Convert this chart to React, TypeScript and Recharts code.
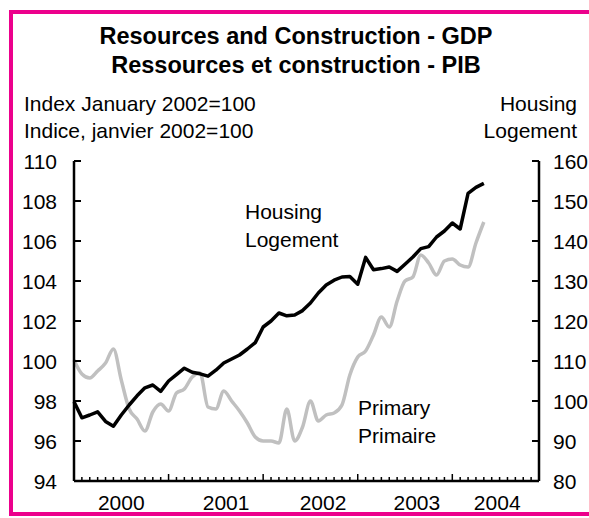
import { LineChart, Line, XAxis, YAxis } from 'recharts'

// monthly series, Jan 2000 .. May 2004
const primary = [
    100.05, 99.35, 99.15, 99.5, 99.9, 100.6, 99.05, 97.6, 97.1, 96.5, 97.45, 97.85,
    97.5, 98.4, 98.6, 99.2, 99.4, 97.7, 97.6, 98.5, 98.0, 97.5, 96.9, 96.2,
    96.0, 96.0, 95.9, 97.6, 96.0, 96.7, 98.0, 97.0, 97.3, 97.4, 97.8, 99.3,
    100.2, 100.5, 101.3, 102.2, 101.7, 103.0, 104.0, 104.2, 105.3, 104.9, 104.3, 105.0,
    105.1, 104.8, 104.7, 105.9, 106.95,
]
const housing = [
    99.8, 95.8, 96.5, 97.3, 94.9, 93.7, 96.5, 99.0, 101.3, 103.3, 104.0, 102.4,
    105.0, 106.6, 108.2, 107.2, 106.8, 106.2, 107.7, 109.5, 110.5, 111.5, 113.0, 114.6,
    118.5, 120.0, 122.0, 121.3, 121.5, 122.6, 124.5, 127.0, 129.0, 130.2, 131.0, 131.1,
    129.2, 135.9, 132.8, 133.1, 133.5, 132.4, 134.2, 136.0, 138.1, 138.6, 141.0, 142.5,
    144.5, 143.0, 151.9, 153.4, 154.4,
]
const monthNames = ['Jan', 'Feb', 'Mar', 'Apr', 'May', 'Jun', 'Jul', 'Aug', 'Sep', 'Oct', 'Nov', 'Dec']
const yearLabels = ['2000', '2001', '2002', '2003', '2004']
const yearLabelPos = [6, 19.3, 31.6, 43.5, 53.7]
const leftTicks = [94, 96, 98, 100, 102, 104, 106, 108, 110]
const rightTicks = [80, 90, 100, 110, 120, 130, 140, 150, 160]

const monthTicks = Array.from({ length: 60 }, (_, i) => i)
const xTicks = [...monthTicks, ...yearLabelPos.filter((p) => !monthTicks.includes(p))].sort((a, b) => a - b)

const data = primary.map((p, i) => ({
    m: i,
    month: `${monthNames[i % 12]} ${2000 + Math.floor(i / 12)}`,
    primary: p,
    housing: housing[i],
}))

const FONT = '"Liberation Sans", Arial, sans-serif'
const PLOT_L = 74
const PLOT_R = 539
const PLOT_B = 481

function XTick(props: any) {
    const { payload } = props
    const v = payload.value
    const x = payload.coordinate ?? props.x
    const li = yearLabelPos.indexOf(v)
    return (
        <g>
            {Number.isInteger(v) && (
                <line x1={x} x2={x} y1={PLOT_B} y2={PLOT_B - (v % 12 === 0 ? 7 : 4)} stroke="#000" strokeWidth={1.5} />
            )}
            {li >= 0 && (
                <text x={x} y={510} textAnchor="middle" fontSize={21} fontFamily={FONT} fill="#000">
                    {yearLabels[li]}
                </text>
            )}
        </g>
    )
}

function LeftTick(props: any) {
    const { y, payload } = props
    return (
        <g>
            <line x1={PLOT_L} x2={PLOT_L + 7} y1={y} y2={y} stroke="#000" strokeWidth={2} />
            <text x={PLOT_L - 17} y={y} dy="0.36em" textAnchor="end" fontSize={21} fontFamily={FONT} fill="#000">
                {payload.value}
            </text>
        </g>
    )
}

function RightTick(props: any) {
    const { y, payload } = props
    return (
        <g>
            <line x1={PLOT_R - 7} x2={PLOT_R} y1={y} y2={y} stroke="#000" strokeWidth={2} />
            <text x={PLOT_R + 14} y={y} dy="0.36em" textAnchor="start" fontSize={21} fontFamily={FONT} fill="#000">
                {payload.value}
            </text>
        </g>
    )
}

export default function App() {
    return (
        <div style={{ position: 'absolute', left: 0, top: 0, width: 589, height: 518, overflow: 'hidden', background: '#fff', fontFamily: FONT }}>
            {/* pink frame */}
            <div
                style={{
                    position: 'absolute',
                    left: 9,
                    top: 10,
                    width: 600,
                    height: 498,
                    border: '4px solid #ec008c',
                }}
            />
            <div style={{ position: 'absolute', left: 0, top: 0 }}>
                <LineChart width={589} height={518} data={data} margin={{ top: 161, right: 0, bottom: 0, left: 0 }}>
                    <XAxis
                        dataKey="m"
                        type="number"
                        domain={[0, 59]}
                        ticks={xTicks}
                        interval={0}
                        height={37}
                        tickLine={false}
                        axisLine={{ stroke: '#000', strokeWidth: 2.5 }}
                        tick={<XTick />}
                    />
                    <YAxis
                        yAxisId="left"
                        orientation="left"
                        domain={[94, 110]}
                        ticks={leftTicks}
                        interval={0}
                        width={74}
                        tickLine={false}
                        axisLine={{ stroke: '#000', strokeWidth: 2.5 }}
                        tick={<LeftTick />}
                    />
                    <YAxis
                        yAxisId="right"
                        orientation="right"
                        domain={[80, 160]}
                        ticks={rightTicks}
                        interval={0}
                        width={50}
                        tickLine={false}
                        axisLine={{ stroke: '#000', strokeWidth: 2.5 }}
                        tick={<RightTick />}
                    />
                    <Line
                        yAxisId="left"
                        dataKey="primary"
                        type="monotone"
                        stroke="#c0c0c0"
                        strokeWidth={3.5}
                        dot={false}
                        isAnimationActive={false}
                    />
                    <Line
                        yAxisId="right"
                        dataKey="housing"
                        type="linear"
                        stroke="#000"
                        strokeWidth={3.5}
                        strokeLinejoin="round"
                        dot={false}
                        isAnimationActive={false}
                    />
                </LineChart>
            </div>
            <svg width={589} height={518} style={{ position: 'absolute', left: 0, top: 0, pointerEvents: 'none' }}>
                <g fontFamily={FONT} fill="#000">
                    <text x={296} y={44} textAnchor="middle" fontSize={23.5} fontWeight="bold">
                        Resources and Construction - GDP
                    </text>
                    <text x={296} y={73} textAnchor="middle" fontSize={23.5} fontWeight="bold">
                        Ressources et construction - PIB
                    </text>
                    <text x={24} y={111} fontSize={21}>Index January 2002=100</text>
                    <text x={24} y={138} fontSize={21}>Indice, janvier 2002=100</text>
                    <text x={577} y={111} fontSize={21} textAnchor="end">Housing</text>
                    <text x={577} y={138} fontSize={21} textAnchor="end">Logement</text>
                    <text x={245} y={219} fontSize={21}>Housing</text>
                    <text x={245} y={247} fontSize={21}>Logement</text>
                    <text x={358} y={415} fontSize={21}>Primary</text>
                    <text x={358} y={443} fontSize={21}>Primaire</text>
                </g>
            </svg>
        </div>
    )
}
